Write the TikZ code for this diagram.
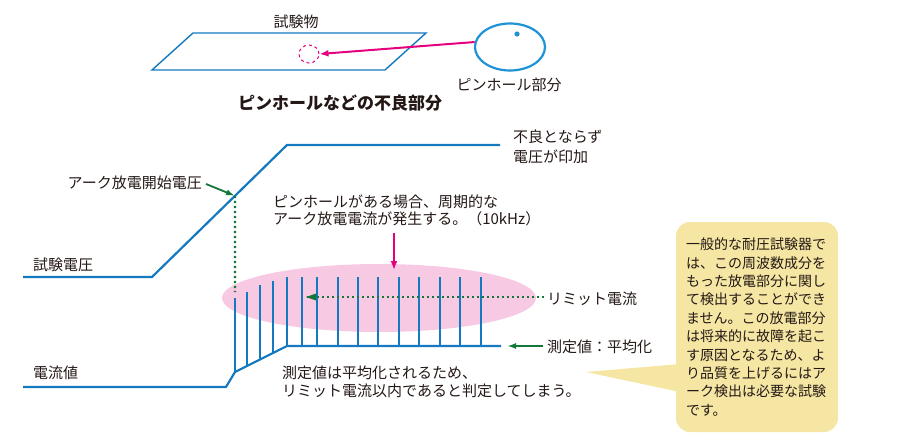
\documentclass[tikz,border=0pt]{standalone}
\usepackage{fontspec}
\setmainfont{Noto Sans CJK JP}
\usepackage{tikz}
\usetikzlibrary{arrows.meta,positioning,shapes.geometric}

\definecolor{wireblue}{HTML}{1479BF}
\definecolor{holeblue}{HTML}{1E93D6}
\definecolor{hotpink}{HTML}{E4007F}
\definecolor{softpink}{HTML}{F7C9E3}
\definecolor{darkgreen}{HTML}{13773A}
\definecolor{notefill}{HTML}{F5E6A3}
\definecolor{inkgray}{HTML}{231815}

\begin{document}
\begin{tikzpicture}[
    x=1pt, y=-1pt,
    every node/.style={text=inkgray, inner sep=0pt},
    label/.style={font=\fontsize{15}{20}\selectfont, align=left},
    wave/.style={draw=wireblue, line width=2.2pt},
    spike/.style={draw=wireblue, line width=2.2pt},
    pinkarrow/.style={draw=hotpink, line width=2pt, -{Latex[length=9pt,width=7pt]}},
    greenarrow/.style={draw=darkgreen, line width=1.8pt, -{Latex[length=9pt,width=6pt]}},
    greendots/.style={draw=darkgreen, line width=2.4pt, dash pattern=on 2.2pt off 2.8pt},
    note/.style={fill=notefill, rounded corners=14pt, minimum width=162pt, minimum height=210pt,
                 inner xsep=10pt, text width=142pt, align=left,
                 font=\fontsize{14}{18.4}\selectfont}
]
    \useasboundingbox (0,0) rectangle (900,436);

    % --- Test piece with a pinhole ---
    \draw[draw=wireblue, line width=1.4pt] (193,33) -- (426,33) -- (385,70) -- (152,70) -- cycle;
    \node[label] (piece) at (296,22) {試験物};
    \node[draw=hotpink, dashed, line width=1pt, ellipse, minimum width=20pt, minimum height=18pt] (spot) at (309,54) {};

    % Magnified pinhole
    \node[draw=holeblue, line width=2.2pt, ellipse, minimum width=70pt, minimum height=47pt] (hole) at (510,47) {};
    \fill[holeblue] (517,34) circle (2.6pt);
    \node[label] (holelbl) at (509,85) {ピンホール部分};
    \draw[pinkarrow] (hole.172) -- (spot.east);

    \node[font=\fontsize{17}{20}\selectfont\bfseries] (title) at (340,103) {ピンホールなどの不良部分};

    % --- Test voltage ---
    \coordinate (v0) at (23,277);
    \coordinate (v1) at (152,277);
    \coordinate (v2) at (287,145);
    \coordinate (v3) at (500,145);
    \draw[wave] (v0) -- (v1) -- (v2) -- (v3);
    \path (v1) -- (v2) coordinate[pos=0.615] (onset);

    \node[label, anchor=west] (vlbl) at (33,265) {試験電圧};
    \node[label, anchor=west] (okvolt) at (513,147) {不良とならず\\電圧が印加};
    \node[label, anchor=east] (onsetlbl) at (202,183) {アーク放電開始電圧};
    \draw[greenarrow] (onsetlbl.east) ++(4,1) -- (onset);

    % --- Arc discharge current ---
    \fill[softpink] (379,298) ellipse (157pt and 34pt);

    \node[label, anchor=west, font=\fontsize{15}{17}\selectfont] (arcnote) at (273,210.5)
        {ピンホールがある場合、周期的な\\アーク放電電流が発生する。（10kHz）};
    \coordinate (arcin) at (394,270);
    \draw[pinkarrow] (arcin |- 0,233) -- (arcin);

    % Current value
    \node[label, anchor=west] (ilbl) at (33,373) {電流値};
    \coordinate (c0) at (23,387);
    \coordinate (c1) at (226,387);
    \coordinate (c2) at (235,372);
    \coordinate (c3) at (287,346);
    \coordinate (c4) at (501,346);
    \draw[wave, line join=round] (c0) -- (c1) -- (c2) -- (c3) -- (c4);

    % Rising spikes on the ramp
    \foreach \x/\top in {235/298, 247/292, 260/285, 273/281}
        \draw[spike] (\x,{372-(\x-235)*0.5}) -- (\x,\top);
    % Full spikes
    \foreach \x in {287,302,317,338,358,378,399,419,440,460,481}
        \draw[spike] (\x,346) -- (\x,277);

    \coordinate (dotend) at (235,292);
    \draw[greendots] (onset) -- (dotend);

    % Limit current
    \node[label, anchor=west] (limit) at (547,299) {リミット電流};
    \coordinate (limitend) at (306,297);
    \draw[greendots] (limit.west) ++(-3,-2) -- (limitend);
    \fill[darkgreen] (limitend) -- ++(10,-3.5) -- ++(0,7) -- cycle;

    % Measured value
    \node[label, anchor=west] (avg) at (547,347) {測定値：平均化};
    \coordinate (avgend) at (507,346);
    \draw[greenarrow] (avg.west) ++(-4,-1) -- (avgend);

    \node[label, anchor=west, font=\fontsize{15}{18}\selectfont] (result) at (282,382)
        {測定値は平均化されるため、\\リミット電流以内であると判定してしまう。};

    % --- Callout ---
    \node[note] (box) at (757,327)
        {一般的な耐圧試験器で\\は、この周波数成分を\\もった放電部分に関し\\て検出することができ\\ません。この放電部分\\は将来的に故障を起こ\\す原因となるため、よ\\り品質を上げるにはア\\ーク検出は必要な試験\\です。};
    \fill[notefill] (586,372) -- ([xshift=4pt]box.west |- 0,364) -- ([xshift=4pt]box.west |- 0,392) -- cycle;

\end{tikzpicture}
\end{document}
